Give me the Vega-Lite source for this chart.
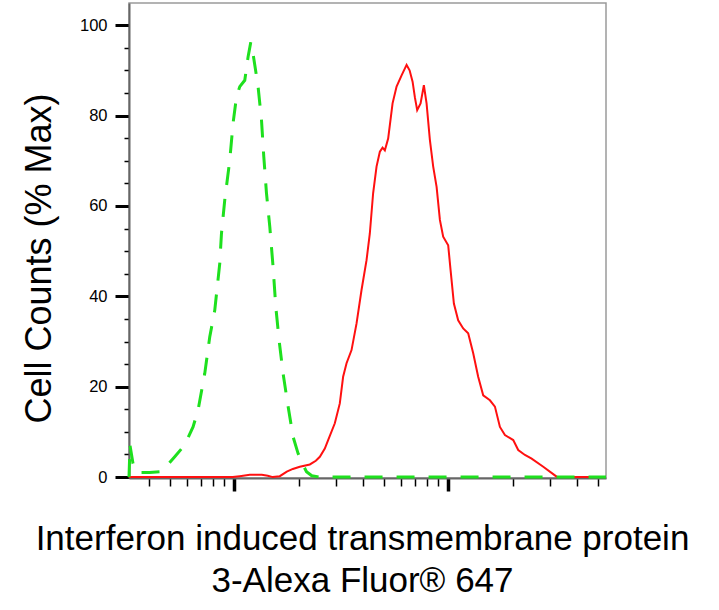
{
  "$schema": "https://vega.github.io/schema/vega-lite/v6.json",
  "autosize": "none",
  "padding": {"left": 129, "top": 3, "right": 113, "bottom": 132},
  "width": 477,
  "height": 475,
  "background": "white",
  "config": {
    "font": "Liberation Sans",
    "view": {"stroke": "#9a9a9a", "strokeWidth": 1.5},
    "axis": {"grid": false, "domainColor": "#666666", "domainWidth": 2, "tickColor": "black", "labelColor": "black", "titleColor": "black", "titleFontWeight": "normal"}
  },
  "datasets": {
    "isotype": [
      {"fl": 323.1, "pct": 0},
      {"fl": 326.6, "pct": 7.0},
      {"fl": 337.3, "pct": 3.0},
      {"fl": 354.8, "pct": 1.0},
      {"fl": 403.7, "pct": 1.0},
      {"fl": 459.3, "pct": 1.2},
      {"fl": 528.4, "pct": 4.5},
      {"fl": 588.3, "pct": 7.1},
      {"fl": 643.3, "pct": 11.1},
      {"fl": 678.9, "pct": 14.8},
      {"fl": 729.6, "pct": 22.9},
      {"fl": 769.8, "pct": 31.0},
      {"fl": 812.5, "pct": 36.9},
      {"fl": 857.5, "pct": 47.3},
      {"fl": 873.3, "pct": 53.9},
      {"fl": 904.6, "pct": 61.3},
      {"fl": 954.8, "pct": 70.1},
      {"fl": 989.3, "pct": 78.3},
      {"fl": 1026.2, "pct": 84.1},
      {"fl": 1063.2, "pct": 86.4},
      {"fl": 1122.0, "pct": 87.8},
      {"fl": 1162.9, "pct": 93.0},
      {"fl": 1196.8, "pct": 96.2},
      {"fl": 1223.0, "pct": 94.0},
      {"fl": 1249.6, "pct": 91.2},
      {"fl": 1294.7, "pct": 86.4},
      {"fl": 1343.0, "pct": 79.0},
      {"fl": 1376.7, "pct": 70.9},
      {"fl": 1417.2, "pct": 62.8},
      {"fl": 1468.4, "pct": 55.4},
      {"fl": 1521.4, "pct": 46.5},
      {"fl": 1566.3, "pct": 37.7},
      {"fl": 1622.8, "pct": 30.3},
      {"fl": 1694.2, "pct": 22.9},
      {"fl": 1788.3, "pct": 15.6},
      {"fl": 1886.9, "pct": 8.9},
      {"fl": 1991.3, "pct": 5.2},
      {"fl": 2094.4, "pct": 2.8},
      {"fl": 2179.5, "pct": 1.2},
      {"fl": 2307.5, "pct": 0.3},
      {"fl": 2515.4, "pct": 0},
      {"fl": 54580, "pct": 0}
    ],
    "antibody": [
      {"fl": 323.1, "pct": 0},
      {"fl": 986.1, "pct": 0},
      {"fl": 1063.2, "pct": 0.2},
      {"fl": 1184.1, "pct": 0.5},
      {"fl": 1347.4, "pct": 0.5},
      {"fl": 1437.2, "pct": 0.3},
      {"fl": 1516.3, "pct": 0},
      {"fl": 1635.1, "pct": 0.2},
      {"fl": 1763.6, "pct": 1.2},
      {"fl": 1881.6, "pct": 1.8},
      {"fl": 2028.0, "pct": 2.3},
      {"fl": 2258.3, "pct": 2.8},
      {"fl": 2409.2, "pct": 3.6},
      {"fl": 2515.4, "pct": 4.5},
      {"fl": 2653.8, "pct": 6.3},
      {"fl": 2750, "pct": 8.2},
      {"fl": 2955, "pct": 11.9},
      {"fl": 3118, "pct": 16.3},
      {"fl": 3231, "pct": 22.2},
      {"fl": 3352, "pct": 25.2},
      {"fl": 3537, "pct": 28.1},
      {"fl": 3733, "pct": 34.0},
      {"fl": 3938, "pct": 41.4},
      {"fl": 4156, "pct": 48.0},
      {"fl": 4306, "pct": 53.9},
      {"fl": 4461, "pct": 62.8},
      {"fl": 4628, "pct": 68.7},
      {"fl": 4796, "pct": 72.0},
      {"fl": 4938, "pct": 72.9},
      {"fl": 5061, "pct": 72.3},
      {"fl": 5244, "pct": 74.9},
      {"fl": 5498.6, "pct": 82.7},
      {"fl": 5740.5, "pct": 86.4},
      {"fl": 6058.8, "pct": 88.9},
      {"fl": 6393.7, "pct": 91.2},
      {"fl": 6603.3, "pct": 90.0},
      {"fl": 6819.6, "pct": 87.5},
      {"fl": 6990.8, "pct": 84.0},
      {"fl": 7165.4, "pct": 81.2},
      {"fl": 7430.6, "pct": 82.7},
      {"fl": 7698.6, "pct": 86.7},
      {"fl": 7926.1, "pct": 82.7},
      {"fl": 8212.8, "pct": 74.6},
      {"fl": 8511.9, "pct": 68.7},
      {"fl": 8828.6, "pct": 64.2},
      {"fl": 9147.0, "pct": 56.9},
      {"fl": 9476.0, "pct": 53.2},
      {"fl": 10000, "pct": 51.3},
      {"fl": 10261, "pct": 45.8},
      {"fl": 10632, "pct": 38.4},
      {"fl": 11134, "pct": 34.7},
      {"fl": 11751, "pct": 32.9},
      {"fl": 12400, "pct": 31.8},
      {"fl": 13088, "pct": 27.4},
      {"fl": 13807, "pct": 22.2},
      {"fl": 14574, "pct": 18.1},
      {"fl": 15666, "pct": 17.0},
      {"fl": 16530, "pct": 15.6},
      {"fl": 17444, "pct": 11.1},
      {"fl": 18407, "pct": 9.3},
      {"fl": 20128, "pct": 8.2},
      {"fl": 21236, "pct": 6.0},
      {"fl": 22828, "pct": 4.9},
      {"fl": 24530, "pct": 4.1},
      {"fl": 27797, "pct": 2.3},
      {"fl": 32098, "pct": 0.1},
      {"fl": 35100, "pct": 0},
      {"fl": 54580, "pct": 0}
    ]
  },
  "encoding": {
    "x": {
      "field": "fl",
      "type": "quantitative",
      "scale": {"type": "log", "domain": [323.1, 54580], "nice": false},
      "axis": {
        "values": [400, 500, 600, 700, 800, 900, 1000, 2000, 3000, 4000, 5000, 6000, 7000, 8000, 9000, 10000, 20000, 30000, 40000, 50000],
        "labels": false,
        "tickSize": {"condition": {"test": "datum.value === 1000 || datum.value === 10000", "value": 13}, "value": 8},
        "tickWidth": {"condition": {"test": "datum.value === 1000 || datum.value === 10000", "value": 3.5}, "value": 1.5},
        "title": ["Interferon induced transmembrane protein", "3-Alexa Fluor® 647"],
        "titleFontSize": 35,
        "titleLineHeight": 42,
        "titleX": 233,
        "titleY": 71,
        "titleAlign": "center",
        "titleBaseline": "alphabetic"
      }
    },
    "y": {
      "field": "pct",
      "type": "quantitative",
      "scale": {"domain": [-0.2, 104.9], "nice": false},
      "axis": {
        "values": [0, 5, 10, 15, 20, 25, 30, 35, 40, 45, 50, 55, 60, 65, 70, 75, 80, 85, 90, 95, 100],
        "labelExpr": "datum.value % 20 === 0 ? datum.label : ''",
        "labelFontSize": 16.5,
        "labelPadding": 8,
        "tickSize": {"condition": {"test": "datum.value % 20 === 0", "value": 14}, "value": 5},
        "tickWidth": {"condition": {"test": "datum.value % 20 === 0", "value": 3}, "value": 1.5},
        "title": "Cell Counts (% Max)",
        "titleFontSize": 36,
        "titleAngle": -90,
        "titleX": -79,
        "titleY": 255,
        "titleAlign": "center",
        "titleBaseline": "alphabetic"
      }
    }
  },
  "layer": [
    {
      "data": {"name": "antibody"},
      "mark": {"type": "line", "color": "#ff1010", "strokeWidth": 2}
    },
    {
      "data": {"name": "isotype"},
      "mark": {"type": "line", "color": "#1ee01e", "strokeWidth": 3, "strokeDash": [18, 14]}
    }
  ]
}
